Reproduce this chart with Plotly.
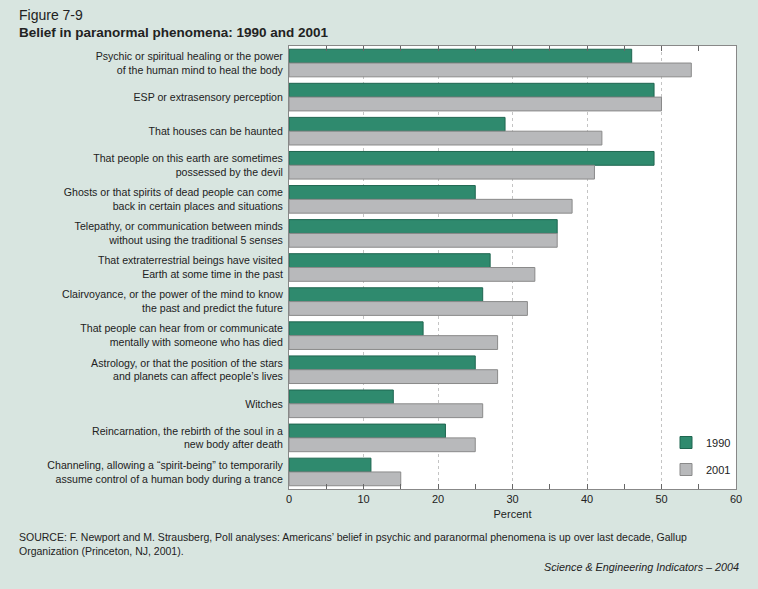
import plotly.graph_objects as go

categories = [
    "Psychic or spiritual healing or the power<br>of the human mind to heal the body",
    "ESP or extrasensory perception",
    "That houses can be haunted",
    "That people on this earth are sometimes<br>possessed by the devil",
    "Ghosts or that spirits of dead people can come<br>back in certain places and situations",
    "Telepathy, or communication between minds<br>without using the traditional 5 senses",
    "That extraterrestrial beings have visited<br>Earth at some time in the past",
    "Clairvoyance, or the power of the mind to know<br>the past and predict the future",
    "That people can hear from or communicate<br>mentally with someone who has died",
    "Astrology, or that the position of the stars<br>and planets can affect people\u2019s lives",
    "Witches",
    "Reincarnation, the rebirth of the soul in a<br>new body after death",
    "Channeling, allowing a \u201cspirit-being\u201d to temporarily<br>assume control of a human body during a trance",
]
values_1990 = [46, 49, 29, 49, 25, 36, 27, 26, 18, 25, 14, 21, 11]
values_2001 = [54, 50, 42, 41, 38, 36, 33, 32, 28, 28, 26, 25, 15]

BG = "#d8e5e0"
GREEN = "#2f8a6e"
GRAY = "#b8b9bb"
FONT = "Liberation Sans, Arial, sans-serif"

W, H = 758, 589
ML, MR, MT, MB = 289, 22, 46, 100

fig = go.Figure()
fig.add_trace(go.Bar(
    y=categories, x=values_1990, orientation="h", name="1990", legendgroup="a",
    marker=dict(color=GREEN, line=dict(color="#1f6650", width=1)),
))
fig.add_trace(go.Bar(
    y=categories, x=values_2001, orientation="h", name="2001", legendgroup="b",
    marker=dict(color=GRAY, line=dict(color="#8a8a8a", width=1)),
))

fig.update_layout(
    width=W, height=H,
    paper_bgcolor=BG, plot_bgcolor="white",
    margin=dict(l=ML, r=MR, t=MT, b=MB),
    barmode="group", bargap=0.19, bargroupgap=0,
    font=dict(family=FONT, size=10, color="#222222"),
    showlegend=True,
    legend=dict(x=(666 - ML) / (W - ML - MR), y=(H - 428 - MB) / (H - MT - MB),
                xanchor="left", yanchor="top",
                bgcolor="rgba(0,0,0,0)", font=dict(size=11),
                itemwidth=30, tracegroupgap=8),
    xaxis=dict(
        range=[0, 60], dtick=10, tick0=0,
        ticks="inside", ticklen=5, tickcolor="#666",
        minor=dict(dtick=5, ticks="inside", ticklen=5, tickcolor="#666"),
        showgrid=True, gridcolor="#c4c4c4", griddash="dot", gridwidth=1,
        showline=True, linecolor="#888888", linewidth=1, mirror="ticks",
        zeroline=False,
        tickfont=dict(size=11, color="#222"),
        title=dict(text="Percent", font=dict(size=11), standoff=6),
    ),
    yaxis=dict(
        autorange="reversed", showgrid=False, ticks="",
        showline=True, linecolor="#888888", linewidth=1, mirror=True,
        tickfont=dict(size=10.6, color="#222"), ticklabelstandoff=3,
    ),
)

def px_x(x):
    return (x - ML) / (W - ML - MR)

def px_y(y):
    return (H - y - MB) / (H - MT - MB)

fig.add_annotation(xref="paper", yref="paper", showarrow=False, align="left",
                   xanchor="left", yanchor="top", x=px_x(17), y=px_y(5),
                   text="Figure 7-9", font=dict(family=FONT, size=14, color="#222"))
fig.add_annotation(xref="paper", yref="paper", showarrow=False, align="left",
                   xanchor="left", yanchor="top", x=px_x(17), y=px_y(23),
                   text="<b>Belief in paranormal phenomena: 1990 and 2001</b>",
                   font=dict(family=FONT, size=13.5, color="#222"))
fig.add_annotation(xref="paper", yref="paper", showarrow=False, align="left",
                   xanchor="left", yanchor="top", x=px_x(17), y=px_y(529),
                   text="SOURCE: F. Newport and M. Strausberg, Poll analyses: Americans\u2019 belief in psychic and paranormal phenomena is up over last decade, Gallup<br>Organization (Princeton, NJ, 2001).",
                   font=dict(family=FONT, size=10.5, color="#222"))
fig.add_annotation(xref="paper", yref="paper", showarrow=False,
                   xanchor="right", yanchor="top", x=px_x(741), y=px_y(559),
                   text="<i>Science & Engineering Indicators \u2013 2004</i>",
                   font=dict(family=FONT, size=10.8, color="#222"))

fig.write_html("out.html", config={"displayModeBar": False},
               post_script="document.body.style.margin='0';document.body.style.background='%s';" % BG)
